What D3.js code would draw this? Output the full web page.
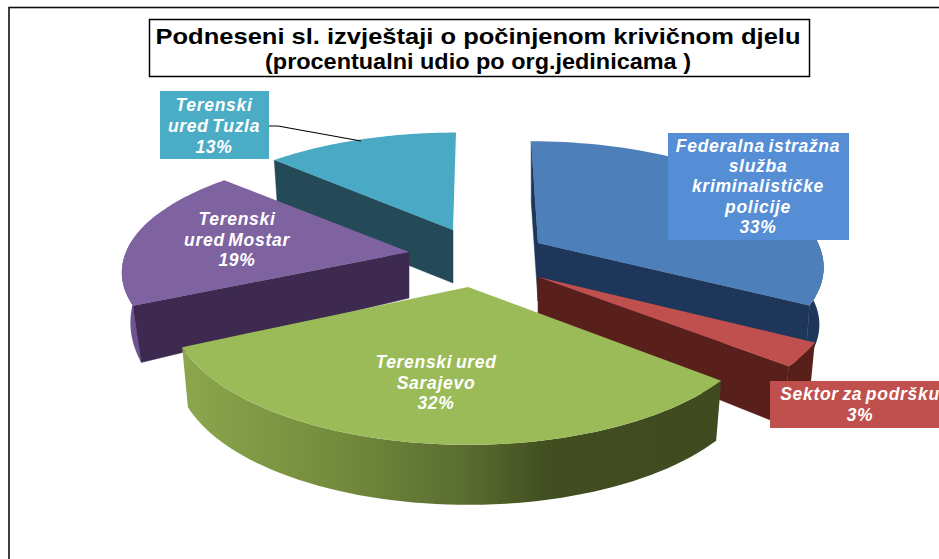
<!DOCTYPE html>
<html>
<head>
<meta charset="utf-8">
<script src="https://cdn.jsdelivr.net/npm/d3@7"></script>
<style>
  html, body { margin: 0; padding: 0; background: #fff; overflow: hidden; }
  svg { display: block; }
  text { font-family: "Liberation Sans", Arial, sans-serif; }
</style>
</head>
<body>
<div id="chart"></div>
<script>
const titleLines = ["Podneseni sl. izvještaji o počinjenom krivičnom djelu", "(procentualni udio po org.jedinicama )"]
const titleWidths = [645, 426]

// values
const categories = ["Federalna istražna služba kriminalističke policije", "Sektor za podršku", "Terenski ured Sarajevo", "Terenski ured Mostar", "Terenski ured Tuzla"]
const shares = [33, 3, 32, 19, 13]

// label wrapping, same order
const labelLines = [
    ["Federalna istražna", "služba", "kriminalističke", "policije", "33%"],
    ["Sektor za podršku", "3%"],
    ["Terenski ured", "Sarajevo", "32%"],
    ["Terenski", "ured Mostar", "19%"],
    ["Terenski", "ured Tuzla", "13%"]
]

// colours
const topColors = ["#4d7fbb", "#c0504d", "#9bbb59", "#7f63a1", "#4aa9c4"]
const faceColors = ["#1d3659", "#581f1b", "#435020", "#3e2a50", "#234a56"]
const rimColors = ["#1d3659", "#581f1b", "url(#rim-green)", "#6f5493", "#234a56"]
const boxColors = ["#558ed5", "#c0504d", null, null, "#4bacc6"]

// projection of each exploded slice, fitted by eye
const apexX = [538, 538, 468, 409, 453]
const apexY = [243, 277, 287, 252, 230]
const radiusX = [280, 290, 293, 283, 277]
const radiusY = [119, 125, 131, 117, 114]
const lean = [8, 0, 0, 0, -3.5]
const depth = [58, 50, 60, 46, 53]
const bottomX = [0.985, 0.98, 0.98, 0.97, 0.98]
const bottomY = [0.97, 1.1, 1.0, 1.2, 1.0]
const perspective = 0.17

const width = 939, height = 559

const svg = d3.select("#chart").append("svg")
    .attr("width", width)
    .attr("height", height)

let rimGrad = svg.append("defs").append("linearGradient")
    .attr("id", "rim-green")
    .attr("gradientUnits", "userSpaceOnUse")
    .attr("x1", 181).attr("x2", 721).attr("y1", 0).attr("y2", 0)
rimGrad.selectAll("stop")
    .data([[0, "#8ca74d"], [0.3, "#728a3c"], [0.52, "#5a6e30"], [0.68, "#414e20"], [1, "#3f4b1e"]])
    .join("stop")
    .attr("offset", d => d[0])
    .attr("stop-color", d => d[1])

// frame runs off the right and bottom of the page
svg.append("rect")
    .attr("x", 9).attr("y", 7.5)
    .attr("width", 1000).attr("height", 700)
    .attr("fill", "none")
    .attr("stroke", "#111")
    .attr("stroke-width", 1.6)

const pie = d3.pie().sort(null)
const slices = pie(shares)
const line = d3.line()

// r=1 on the rim, r=0 at the apex, bottom=true for the lower plane
function project(i, angle, r, bottom) {
    let u = r * Math.sin(angle)
    let v = -r * Math.cos(angle)
    let s = 1 / (1 - perspective * v)
    let sx = bottom ? bottomX[i] : 1
    let sy = bottom ? bottomY[i] : 1
    return [
        apexX[i] + sx * (radiusX[i] * u + lean[i] * v) * s,
        apexY[i] + (bottom ? depth[i] : 0) + sy * radiusY[i] * v * s
    ]
}

function rim(i, a0, a1, bottom) {
    let n = 60
    return d3.range(n + 1).map(k => project(i, a0 + (a1 - a0) * k / n, 1, bottom))
}

function drawFace(g, i, a) {
    g.append("path")
        .attr("d", line([
            project(i, a, 0, false),
            project(i, a, 1, false),
            project(i, a, 1, true),
            project(i, a, 0, true)
        ]) + "Z")
        .attr("fill", faceColors[i])
        .attr("stroke", faceColors[i])
        .attr("stroke-width", 0.5)
}

function drawSlice(i) {
    let d = slices[i]
    let g = svg.append("g").attr("class", "slice")

    // outer wall, only the part that can show from the front
    let a0 = Math.max(d.startAngle, Math.PI * 0.39)
    let a1 = Math.min(d.endAngle, Math.PI * 1.61)
    if (a0 < a1) {
        let low = rim(i, a0, a1, true)
        g.append("path")
            .attr("d", line(rim(i, a0, a1, false).concat(low.reverse())) + "Z")
            .attr("fill", rimColors[i])
    }

    // cut faces, only those turned to the viewer
    if (d.startAngle >= Math.PI || d.startAngle == 0) drawFace(g, i, d.startAngle)
    if (d.endAngle < Math.PI) drawFace(g, i, d.endAngle)

    // top surface
    g.append("path")
        .attr("d", line([project(i, 0, 0, false)].concat(rim(i, d.startAngle, d.endAngle, false))) + "Z")
        .attr("fill", topColors[i])
}

// back to front
;[4, 3, 0, 1, 2].forEach(drawSlice)

// label placement
const boxX = [668, 770, null, null, 160]
const boxY = [133, 381, null, null, 91]
const boxW = [181, 169, null, null, 109]
const boxH = [107, 47, null, null, 68]
const textX = [758, 860, 436, 237, 214]
const textY = [152, 400, 368, 225, 111]
const lineStep = [20.2, 21, 20.5, 20.5, 20.8]

// leader of the Tuzla label
svg.append("path")
    .attr("d", line([[269, 126], [278, 126], [361, 141]]))
    .attr("fill", "none")
    .attr("stroke", "#000")
    .attr("stroke-width", 1.2)

categories.forEach((c, i) => {
    if (boxColors[i]) {
        svg.append("rect")
            .attr("x", boxX[i]).attr("y", boxY[i])
            .attr("width", boxW[i]).attr("height", boxH[i])
            .attr("fill", boxColors[i])
    }
    let t = svg.append("text")
        .attr("class", "label")
        .attr("text-anchor", "middle")
        .attr("font-size", 17.5)
        .attr("font-weight", "bold")
        .attr("font-style", "italic")
        .attr("letter-spacing", 0.7)
        .attr("word-spacing", -2)
        .attr("fill", "#fff")
    t.selectAll("tspan")
        .data(labelLines[i])
        .join("tspan")
        .attr("x", textX[i])
        .attr("y", (d, k) => textY[i] + k * lineStep[i])
        .text(d => d)
})

// title box
svg.append("rect")
    .attr("x", 149.5).attr("y", 19.5)
    .attr("width", 660).attr("height", 57)
    .attr("fill", "#fff")
    .attr("stroke", "#000")
    .attr("stroke-width", 1.5)

svg.selectAll("text.title")
    .data(titleLines)
    .join("text")
    .attr("class", "title")
    .attr("x", 478)
    .attr("y", (d, i) => 44 + i * 24.5)
    .attr("text-anchor", "middle")
    .attr("font-size", 22.5)
    .attr("font-weight", "bold")
    .attr("textLength", (d, i) => titleWidths[i])
    .attr("lengthAdjust", "spacingAndGlyphs")
    .attr("fill", "#000")
    .text(d => d)
</script>
</body>
</html>
